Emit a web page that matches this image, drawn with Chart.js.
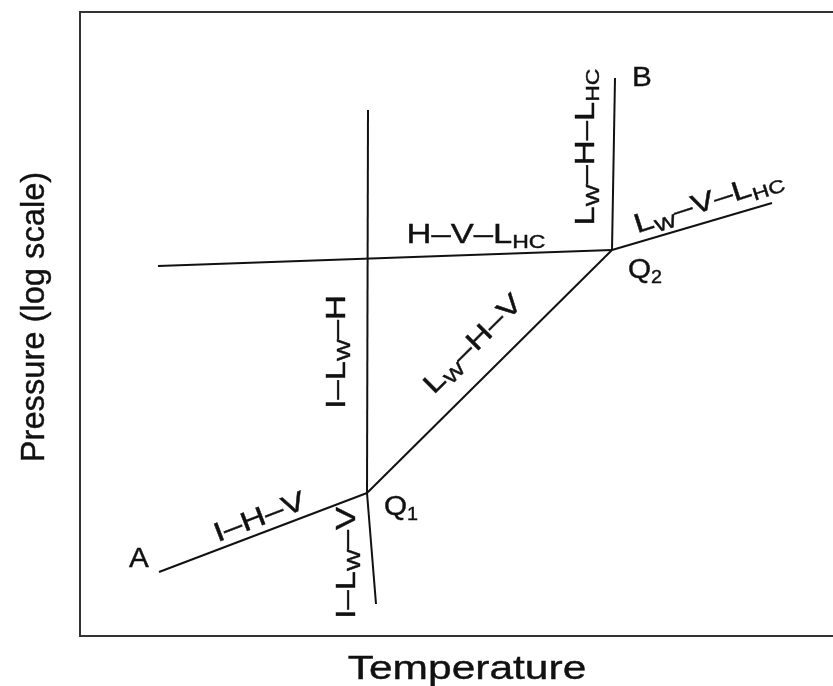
<!DOCTYPE html>
<html>
<head>
<meta charset="utf-8">
<script src="https://cdn.jsdelivr.net/npm/chart.js@4.4.0/dist/chart.umd.min.js"></script>
<style>
  body { margin: 0; background: #fff; }
  #wrap { width: 833px; height: 686px; }
</style>
</head>
<body>
<div id="wrap"><canvas id="phaseChart"></canvas></div>
<script>
// Phase boundaries (temperature vs log pressure, arbitrary units)
const ihvLine = [{x: 79, y: 64}, {x: 287, y: 143}];
const ilwvLine = [{x: 287, y: 143}, {x: 296, y: 32}];
const ilwhLine = [{x: 287, y: 143}, {x: 288, y: 526}];
const hvlhcLine = [{x: 78, y: 370}, {x: 532, y: 386}];
const lwhvLine = [{x: 287, y: 143}, {x: 532, y: 386}];
const lwhlhcLine = [{x: 532, y: 386}, {x: 535, y: 558}];
const lwvlhcLine = [{x: 532, y: 386}, {x: 692, y: 433}];

const xRange = [0, 753];
const yRange = [0, 624];

const xTitle = 'Temperature';
const yTitle = 'Pressure (log scale)';

// labels: pieces of text, second item true = subscript
const curveLabels = [
    {x: 179, y: 120, angle: -21, parts: [['I–H–V']]},
    {x: 265, y: 73, angle: -90, parts: [['I–L'], ['W', true], ['–V']]},
    {x: 255, y: 284, angle: -90, parts: [['I–L'], ['W', true], ['–H']]},
    {x: 396, y: 403, angle: 0, parts: [['H–V–L'], ['HC', true]]},
    {x: 392, y: 293, angle: -45, parts: [['L'], ['W', true], ['–H–V']]},
    {x: 504, y: 489, angle: -90, parts: [['L'], ['W', true], ['–H–L'], ['HC', true]]},
    {x: 628, y: 436, angle: -18, parts: [['L'], ['W', true], ['–V–L'], ['HC', true]]}
];

const pointLabels = [
    {x: 59, y: 79, parts: [['A']]},
    {x: 562, y: 560, parts: [['B']]},
    {x: 321, y: 131, parts: [['Q'], ['1', true]]},
    {x: 565, y: 368, parts: [['Q'], ['2', true]]}
];

const FONT = '"Liberation Sans", Arial, Helvetica, sans-serif';
const INK = '#111';

// draw a run of text with subscripts, centred on (x, y)
function drawParts(ctx, parts, x, y, angle, size, stretch) {
    const mainFont = `${size}px ${FONT}`;
    const subFont = `${Math.round(size * 0.66)}px ${FONT}`;
    let total = 0;
    const widths = parts.map(([t, sub]) => {
        ctx.font = sub ? subFont : mainFont;
        const w = ctx.measureText(t).width;
        total += w;
        return w;
    });
    ctx.save();
    ctx.translate(x, y);
    ctx.rotate(angle * Math.PI / 180);
    ctx.scale(stretch, 1);
    ctx.fillStyle = INK;
    ctx.strokeStyle = INK;
    ctx.lineWidth = 0.4;
    ctx.textAlign = 'left';
    ctx.textBaseline = 'alphabetic';
    const base = size * 0.36;
    let cx = -total / 2;
    parts.forEach(([t, sub], i) => {
        ctx.font = sub ? subFont : mainFont;
        const by = sub ? base + size * 0.2 : base;
        ctx.fillText(t, cx, by);
        ctx.strokeText(t, cx, by);
        cx += widths[i];
    });
    ctx.restore();
}

const labelPlugin = {
    id: 'phaseLabels',
    afterDraw(chart) {
        const ctx = chart.ctx;
        const xs = chart.scales.x;
        const ys = chart.scales.y;
        const area = chart.chartArea;

        curveLabels.forEach(l => {
            drawParts(ctx, l.parts, xs.getPixelForValue(l.x), ys.getPixelForValue(l.y), l.angle, 27, 1.28);
        });
        pointLabels.forEach(l => {
            drawParts(ctx, l.parts, xs.getPixelForValue(l.x), ys.getPixelForValue(l.y), 0, 27, 1.1);
        });

        // axis titles
        drawParts(ctx, [[xTitle]], area.left + 387, area.bottom + 31, 0, 34, 1.25);
        drawParts(ctx, [[yTitle]], 32, area.top + 305, -90, 33, 0.99);
    }
};

function segment(data) {
    return {
        data: data,
        showLine: true,
        borderColor: INK,
        borderWidth: 2,
        pointRadius: 0,
        fill: false,
        tension: 0
    };
}

const hiddenAxis = {
    type: 'linear',
    ticks: { display: false },
    grid: { display: false, drawTicks: false },
    border: { display: true, color: '#333', width: 2 }
};

new Chart(document.getElementById('phaseChart'), {
    type: 'scatter',
    data: {
        datasets: [ihvLine, ilwvLine, ilwhLine, hvlhcLine, lwhvLine, lwhlhcLine, lwvlhcLine].map(segment)
    },
    options: {
        responsive: true,
        maintainAspectRatio: false,
        animation: false,
        layout: { autoPadding: false, padding: { left: 80, top: 12, right: 0, bottom: 50 } },
        plugins: {
            legend: { display: false },
            tooltip: { enabled: false }
        },
        scales: {
            x: { ...hiddenAxis, position: 'bottom', min: xRange[0], max: xRange[1] },
            xTop: { ...hiddenAxis, position: 'top', min: xRange[0], max: xRange[1] },
            y: { ...hiddenAxis, position: 'left', min: yRange[0], max: yRange[1] }
        }
    },
    plugins: [labelPlugin]
});
</script>
</body>
</html>
